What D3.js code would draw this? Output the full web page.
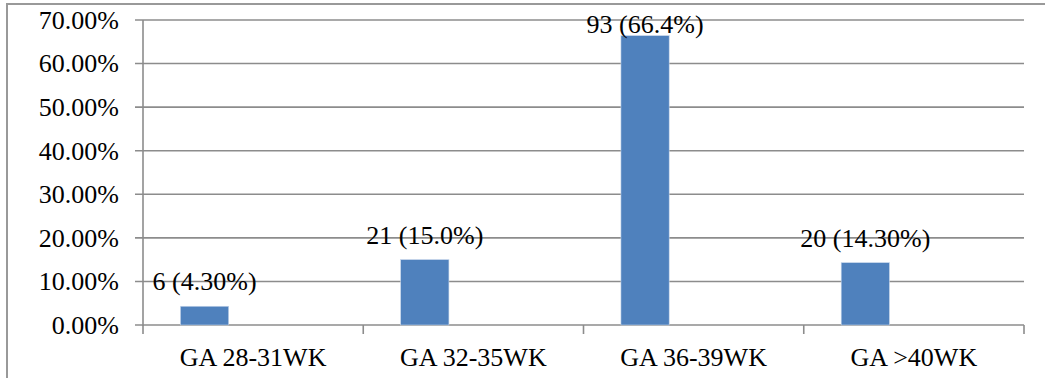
<!DOCTYPE html>
<html>
<head>
<meta charset="utf-8">
<script src="https://cdn.jsdelivr.net/npm/d3@7/dist/d3.min.js"></script>
<style>
  html, body { margin: 0; padding: 0; background: #fff; }
  svg { display: block; }
  text { font-family: "Liberation Serif", "Times New Roman", serif; fill: #000; }
</style>
</head>
<body>
<svg id="chart" width="1045" height="378"></svg>
<script>
// Gestational age groups and their share of cases
const categories = ["GA 28-31WK", "GA 32-35WK", "GA 36-39WK", "GA >40WK"];
const percentValues = [4.3, 15.0, 66.4, 14.3];
const dataLabels = ["6 (4.30%)", "21 (15.0%)", "93 (66.4%)", "20 (14.30%)"];
const yTicks = [0, 10, 20, 30, 40, 50, 60, 70];

const svg = d3.select("#chart");
const plot = { left: 143, right: 1024, top: 20, bottom: 325 };
const gridColor = "#8c8c8c";

// Outer frame (top and left edges visible)
svg.append("path")
  .attr("d", "M7,378 L7,4 L1045,4")
  .attr("fill", "none")
  .attr("stroke", "#999")
  .attr("stroke-width", 2);

const x = d3.scaleBand().domain(categories).range([plot.left, plot.right]);
const y = d3.scaleLinear().domain([0, 70]).range([plot.bottom, plot.top]);

// Horizontal gridlines with short ticks left of the axis
svg.append("g").selectAll("line")
  .data(yTicks)
  .join("line")
  .attr("x1", plot.left - 8)
  .attr("x2", plot.right)
  .attr("y1", d => y(d))
  .attr("y2", d => y(d))
  .attr("stroke", gridColor)
  .attr("stroke-width", 1.6);

// Y axis labels
svg.append("g").selectAll("text")
  .data(yTicks)
  .join("text")
  .attr("x", 119)
  .attr("y", d => y(d))
  .attr("dy", "0.34em")
  .attr("text-anchor", "end")
  .attr("font-size", 26)
  .text(d => d.toFixed(2) + "%");

// Y axis line
svg.append("line")
  .attr("x1", plot.left).attr("x2", plot.left)
  .attr("y1", plot.top).attr("y2", plot.bottom + 1)
  .attr("stroke", gridColor).attr("stroke-width", 1.6);

// Category boundary ticks below the baseline
const boundaries = categories.map(c => x(c)).concat([plot.right]);
svg.append("g").selectAll("line")
  .data(boundaries)
  .join("line")
  .attr("x1", d => d).attr("x2", d => d)
  .attr("y1", plot.bottom).attr("y2", plot.bottom + 9)
  .attr("stroke", gridColor).attr("stroke-width", 1.6);

// Bars sit in the left part of each category slot
const bw = x.bandwidth();
const barOffset = bw * 0.17;
const barWidth = bw * 0.219;

svg.append("g").selectAll("rect")
  .data(percentValues)
  .join("rect")
  .attr("x", (d, i) => x(categories[i]) + barOffset)
  .attr("y", d => y(d))
  .attr("width", barWidth)
  .attr("height", d => y(0) - y(d))
  .attr("fill", "#4f81bd")
  .attr("stroke", "#c5d5ea")
  .attr("stroke-width", 0.6);

// Value labels above bars, kept inside the plot area
svg.append("g").selectAll("text")
  .data(percentValues)
  .join("text")
  .attr("x", (d, i) => x(categories[i]) + barOffset + barWidth / 2)
  .attr("y", d => Math.max(y(d) - 16, 33))
  .attr("text-anchor", "middle")
  .attr("font-size", 26)
  .text((d, i) => dataLabels[i]);

// Category labels
svg.append("g").selectAll("text")
  .data(categories)
  .join("text")
  .attr("x", d => x(d) + bw / 2)
  .attr("y", 366)
  .attr("text-anchor", "middle")
  .attr("font-size", 26)
  .text(d => d);
</script>
</body>
</html>
